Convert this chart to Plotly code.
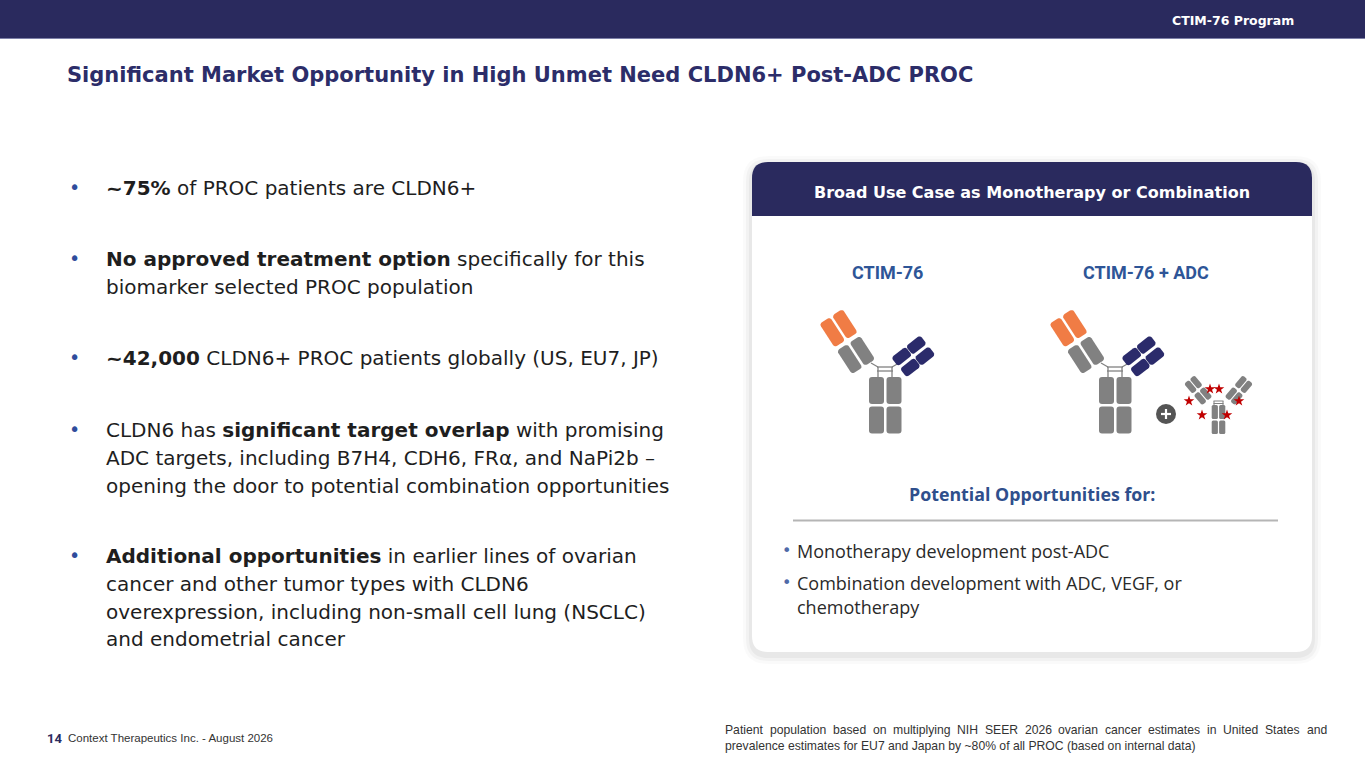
import numpy as np
import plotly.graph_objects as go

# slide text content
PROGRAM_TAG = "CTIM-76 Program"
TITLE = "Significant Market Opportunity in High Unmet Need CLDN6+ Post-ADC PROC"
BULLETS = [
    ["<b>~75%</b> of PROC patients are CLDN6+"],
    ["<b>No approved treatment option</b> specifically for this",
     "biomarker selected PROC population"],
    ["<b>~42,000</b> CLDN6+ PROC patients globally (US, EU7, JP)"],
    ["CLDN6 has <b>significant target overlap</b> with promising",
     "ADC targets, including B7H4, CDH6, FRα, and NaPi2b –",
     "opening the door to potential combination opportunities"],
    ["<b>Additional opportunities</b> in earlier lines of ovarian",
     "cancer and other tumor types with CLDN6",
     "overexpression, including non-small cell lung (NSCLC)",
     "and endometrial cancer"],
]
CARD_TITLE = "Broad Use Case as Monotherapy or Combination"
ICON_LABELS = ["CTIM-76", "CTIM-76 + ADC"]
OPP_TITLE = "Potential Opportunities for:"
OPP_BULLETS = [
    ["Monotherapy development post-ADC"],
    ["Combination development with ADC, VEGF, or", "chemotherapy"],
]
PAGE_NO = "14"
FOOTER_LEFT = "Context Therapeutics Inc. - August 2026"
FOOTNOTE = [
    "Patient population based on multiplying NIH SEER 2026 ovarian cancer estimates in United States and",
    "prevalence estimates for EU7 and Japan by ~80% of all PROC (based on internal data)",
]

# ADC payload stars
star_x = [1210, 1219, 1189, 1239, 1202, 1227]
star_y = [389, 389, 401, 401, 415, 415]

NAVY = "#2a2a5e"
TEXT = "#1e1e1e"
BLUE = "#2e5597"
ORANGE = "#f07c45"
GRAY = "#818181"
ICON_NAVY = "#2b2b6b"
STAR_RED = "#c00000"
BODY_FONT = "DejaVu Sans"

W, H = 1365, 768
shapes = []
ann = []

# Arial / Liberation Sans advance widths (per 1000 em), used to justify the footnote
ARIAL = dict(zip("ABCDEFGHIJKLMNOPQRSTUVWXYZ",
                 [667, 667, 722, 722, 667, 611, 778, 722, 278, 500, 667, 556, 833,
                  722, 778, 667, 778, 722, 667, 611, 722, 667, 944, 667, 667, 611]))
ARIAL.update(zip("abcdefghijklmnopqrstuvwxyz",
                 [556, 556, 500, 556, 556, 278, 556, 556, 222, 222, 500, 222, 833,
                  556, 556, 556, 556, 333, 500, 278, 556, 500, 722, 500, 500, 500]))
ARIAL.update({c: 556 for c in "0123456789"})
ARIAL.update({" ": 278, "(": 333, ")": 333, "%": 889, "~": 584, "-": 333, ".": 278, ",": 278})


def text_w(s, size):
    return sum(ARIAL.get(c, 556) for c in s) * size / 1000


def rr_path(x0, y0, x1, y1, r, top_only=False):
    if top_only:
        return (f"M{x0},{y1} L{x0},{y0 + r} Q{x0},{y0} {x0 + r},{y0} "
                f"L{x1 - r},{y0} Q{x1},{y0} {x1},{y0 + r} L{x1},{y1} Z")
    return (f"M{x0 + r},{y0} L{x1 - r},{y0} Q{x1},{y0} {x1},{y0 + r} "
            f"L{x1},{y1 - r} Q{x1},{y1} {x1 - r},{y1} L{x0 + r},{y1} "
            f"Q{x0},{y1} {x0},{y1 - r} L{x0},{y0 + r} Q{x0},{y0} {x0 + r},{y0} Z")


def rot_block(cx, cy, length, width, ang, r, color):
    # ang = direction of the long side, degrees, in screen coords (y down)
    ux, uy = np.cos(np.radians(ang)), np.sin(np.radians(ang))
    vx, vy = -uy, ux
    hl, hw = length / 2 - r, width / 2 - r
    pts = []
    for sa, sb, t0 in [(1, 1, 0), (-1, 1, 90), (-1, -1, 180), (1, -1, 270)]:
        for t in np.radians(np.linspace(t0, t0 + 90, 5)):
            a = sa * hl + r * np.cos(t)
            b = sb * hw + r * np.sin(t)
            pts.append((cx + a * ux + b * vx, cy + a * uy + b * vy))
    p = "M" + " L".join(f"{x:.2f},{y:.2f}" for x, y in pts) + " Z"
    shapes.append(dict(type="path", path=p, fillcolor=color, line_width=0))


def rect(x0, y0, x1, y1, r, color):
    shapes.append(dict(type="path", path=rr_path(x0, y0, x1, y1, r),
                       fillcolor=color, line_width=0))


def seg(x0, y0, x1, y1, color=GRAY, w=1.3):
    shapes.append(dict(type="line", x0=x0, y0=y0, x1=x1, y1=y1,
                       line=dict(color=color, width=w)))


def arm(cx, cy, ang, n_along, spacing, side, length, width, colors):
    # blocks laid along direction ang (from hinge outward), two chains side by side
    ux, uy = np.cos(np.radians(ang)), np.sin(np.radians(ang))
    vx, vy = -uy, ux
    for i in range(n_along):
        for s in (-1, 1):
            bx = cx + i * spacing * ux + s * side * vx
            by = cy + i * spacing * uy + s * side * vy
            rot_block(bx, by, length, width, ang, min(3, width / 3), colors[i])


def antibody(dx):
    # stem
    for (x0, x1) in [(869, 884), (886.5, 901.5)]:
        for (y0, y1) in [(377, 404), (406.5, 433.5)]:
            rect(x0 + dx, y0, x1 + dx, y1, 3, GRAY)
    # hinge
    seg(877 + dx, 367, 893 + dx, 367)
    seg(877 + dx, 371, 893 + dx, 371)
    seg(878 + dx, 367, 878 + dx, 377)
    seg(892 + dx, 367, 892 + dx, 377)
    seg(871 + dx, 363, 878 + dx, 367)
    seg(899 + dx, 363, 892 + dx, 367)
    # left Fab arm: gray inner pair, orange outer pair
    arm(856 + dx, 355, 237, 2, 32, 7.5, 28, 12.5, [GRAY, ORANGE])
    # right arm: two long navy stripes, each split in two
    arm(906 + dx, 362, -38, 2, 18.5, 7.0, 18, 11, [ICON_NAVY, ICON_NAVY])


def small_adc(cx, top):
    for (x0, x1) in [(cx - 6.8, cx - 0.6), (cx + 0.6, cx + 6.8)]:
        for (y0, y1) in [(top + 4, top + 18), (top + 19.5, top + 33)]:
            rect(x0, y0, x1, y1, 1.5, GRAY)
    seg(cx - 5, top, cx + 5, top, w=1)
    seg(cx - 5, top + 2.5, cx + 5, top + 2.5, w=1)
    seg(cx - 4.5, top, cx - 4.5, top + 4, w=1)
    seg(cx + 4.5, top, cx + 4.5, top + 4, w=1)
    arm(cx - 15.5, top - 5, 230, 2, 15, 3.6, 13, 6.2, [GRAY, GRAY])
    arm(cx + 15.5, top - 5, -50, 2, 15, 3.6, 13, 6.2, [GRAY, GRAY])


# ---- header bar
shapes.append(dict(type="rect", x0=0, y0=0, x1=W, y1=38, fillcolor=NAVY, line_width=0))
shapes.append(dict(type="line", x0=0, y0=38.5, x1=W, y1=38.5, line=dict(color="#7d80a8", width=1)))
ann.append(dict(x=1295, y=20, text=f"<b>{PROGRAM_TAG}</b>", xanchor="right",
                font=dict(family=BODY_FONT, size=12.5, color="white")))
ann.append(dict(x=66, y=75, text=f"<b>{TITLE}</b>", xanchor="left",
                font=dict(family=BODY_FONT, size=21, color="#2c2d69")))

# ---- left bullets
bullet_y = [188, 259, 358, 430, 556]
for lines, y in zip(BULLETS, bullet_y):
    ann.append(dict(x=68, y=y - 1, text="•", xanchor="left",
                    font=dict(family=BODY_FONT, size=19, color="#2f4c9c")))
    for k, line in enumerate(lines):
        ann.append(dict(x=105, y=y + k * 27.8, text=line, xanchor="left",
                        font=dict(family=BODY_FONT, size=20, color=TEXT)))

# ---- card with soft shadow
for g, a in [(9, 0.02), (6, 0.03), (3, 0.04)]:
    shapes.append(dict(type="path", path=rr_path(752 - g, 162 - g + 3, 1312 + g, 652 + g + 3, 16 + g),
                       fillcolor=f"rgba(0,0,0,{a})", line_width=0))
shapes.append(dict(type="path", path=rr_path(752, 162, 1312, 652, 16), fillcolor="white", line_width=0))
shapes.append(dict(type="path", path=rr_path(752, 162, 1312, 216, 16, top_only=True),
                   fillcolor=NAVY, line_width=0))
ann.append(dict(x=1032, y=192, text=f"<b>{CARD_TITLE}</b>", xanchor="center",
                font=dict(family=BODY_FONT, size=16, color="white")))

for lbl, x in zip(ICON_LABELS, [887, 1146]):
    ann.append(dict(x=x, y=272, text=f"<b>{lbl}</b>", xanchor="center",
                    font=dict(family="Roboto", size=18, color=BLUE)))

antibody(0)
antibody(230)
small_adc(1218.5, 401)

# plus sign circle
shapes.append(dict(type="circle", x0=1156, y0=404, x1=1176, y1=424,
                   fillcolor="#555555", line_width=0))
shapes.append(dict(type="line", x0=1161, y0=414, x1=1171, y1=414, line=dict(color="white", width=2.2)))
shapes.append(dict(type="line", x0=1166, y0=409, x1=1166, y1=419, line=dict(color="white", width=2.2)))

ann.append(dict(x=1032, y=494, text=f"<b>{OPP_TITLE}</b>", xanchor="center",
                font=dict(family="Open Sans", size=17.8, color="#2f4f8c")))
shapes.append(dict(type="line", x0=793, y0=520.5, x1=1278, y1=520.5, line=dict(color="#b5b5b5", width=2)))

opp_y = [551, 583]
for lines, y in zip(OPP_BULLETS, opp_y):
    ann.append(dict(x=781, y=y - 1, text="•", xanchor="left",
                    font=dict(family=BODY_FONT, size=16, color="#4f6aa8")))
    for k, line in enumerate(lines):
        ann.append(dict(x=796, y=y + k * 24, text=line, xanchor="left",
                        font=dict(family="Open Sans", size=18, color="#2a2a2a")))

# ---- footer
ann.append(dict(x=46, y=738, text=f"<b>{PAGE_NO}</b>", xanchor="left",
                font=dict(family="Roboto", size=13, color=NAVY)))
left_size = 207 / text_w(FOOTER_LEFT, 1)
ann.append(dict(x=67, y=738, text=FOOTER_LEFT, xanchor="left",
                font=dict(family="Liberation Sans", size=min(left_size, 11.5), color="#333333")))

# footnote: first line justified between x=724 and x=1326
fn_size = 471 / text_w(FOOTNOTE[1], 1)
words = FOOTNOTE[0].split(" ")
ww = [text_w(w_, fn_size) for w_ in words]
gap = (1326 - 724 - sum(ww)) / (len(words) - 1)
xpos = 724
for w_, wd in zip(words, ww):
    ann.append(dict(x=xpos, y=730, text=w_, xanchor="left",
                    font=dict(family="Liberation Sans", size=fn_size, color="#333333")))
    xpos += wd + gap
ann.append(dict(x=724, y=746, text=FOOTNOTE[1], xanchor="left",
                font=dict(family="Liberation Sans", size=fn_size, color="#333333")))

for a in ann:
    a.update(xref="x", yref="y", showarrow=False, yanchor="middle", borderpad=0)
for s in shapes:
    s["layer"] = "below"

fig = go.Figure()
fig.add_trace(go.Scatter(x=star_x, y=star_y, mode="markers", hoverinfo="skip",
                         marker=dict(symbol="star", size=8, color=STAR_RED, line_width=0)))
fig.update_layout(
    width=W, height=H, margin=dict(l=0, r=0, t=0, b=0),
    paper_bgcolor="white", plot_bgcolor="rgba(0,0,0,0)", showlegend=False,
    xaxis=dict(range=[0, W], visible=False, fixedrange=True),
    yaxis=dict(range=[H, 0], visible=False, fixedrange=True),
    shapes=shapes, annotations=ann,
)
fig.write_html("out.html", config={"displayModeBar": False},
               post_script="document.body.style.margin='0';document.body.style.overflow='hidden';")
